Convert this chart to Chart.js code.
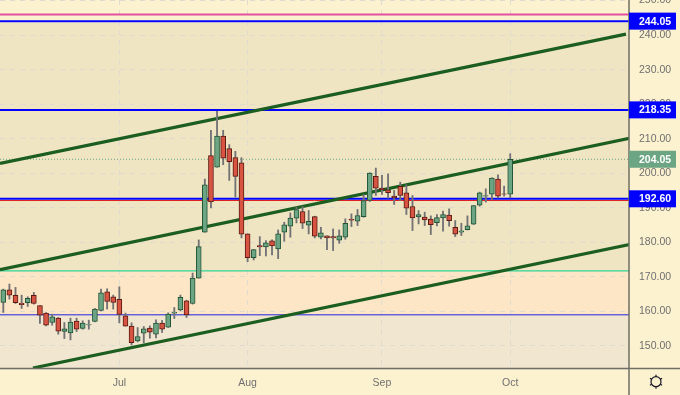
<!DOCTYPE html>
<html>
<head>
<meta charset="utf-8">
<title>Price chart</title>
<script src="https://cdn.jsdelivr.net/npm/chart.js@4/dist/chart.umd.min.js"></script>
<style>
  html, body { margin: 0; padding: 0; background: #fdf2d0; }
  canvas { display: block; }
</style>
</head>
<body>
<canvas id="priceChart" width="680" height="395"></canvas>
<script>
// Candles, one entry per trading day
const opens = [162.58,166.26,164.62,162.39,162.49,164.62,161.71,159.49,156.78,158.03,154.16,153.78,157.16,155.03,156.1,157.07,160.26,165.68,164.23,163.46,158.71,155.71,151.45,153.68,155.13,153.39,156.58,155.42,159.49,160.45,163.07,162.29,169.65,182.91,205.08,201.79,210.79,207.11,204.5,203.05,182.43,175.56,179.04,178.65,180.4,178.07,182.91,184.66,186.98,188.92,184.95,187.46,181.46,181.85,181.65,180.59,181.46,186.69,186.11,187.46,192.11,199.08,195.69,195.21,193.37,196.18,194.34,190.37,187.37,187.27,186.69,185.72,187.08,187.85,184.37,182.91,183.69,185.24,190.75,193.37,193.95,198.31,194.05,193.95];
const highs = [166.46,167.91,166.94,164.71,164.23,165.49,161.71,159.68,159.2,158.23,156.78,158.03,158.03,157.26,157.45,160.84,166.46,166.55,164.71,167.13,159.49,156.68,155.32,155.61,155.81,157.55,157.36,159.58,161.13,164.71,163.26,171.1,180.69,198.31,212.44,217.96,212.44,208.28,206.34,204.5,182.43,177.88,181.65,180.49,180.69,183.59,185.82,188.53,190.17,190.37,189.21,187.56,184.37,181.85,183.88,183.59,186.79,188.24,189.5,193.85,200.15,201.5,199.37,199.85,195.01,197.43,196.66,193.56,189.21,188.72,187.66,188.04,189.01,189.69,186.3,185.53,187.66,190.66,194.53,195.5,198.69,199.56,196.27,205.66];
const lows = [159.68,163.55,162.29,160.84,161.42,162.1,156.49,155.81,156,153.39,152.13,151.74,154.16,154.84,154.84,156.97,160.16,160.65,160.65,156.68,155.71,150.29,151.16,150.87,152.23,152.32,153.87,155.32,157.94,160.16,158.23,162.1,169.6,182.91,189.98,201.79,202.47,197.92,193.08,181.27,174.39,174.88,176.14,176.04,176.33,175.27,180.3,181.46,185.62,183.98,182.43,181.27,180.98,177.88,177.59,179.72,180.88,184.56,184.85,187.27,191.82,193.56,193.85,192.79,190.95,192.11,188.04,183.4,185.33,184.85,182.24,184.75,183.2,184.66,181.65,181.95,183.59,185.14,190.46,191.63,192.3,192.88,193.37,192.88];
const closes = [166.26,164.71,162.49,161.91,163.75,162.29,158.91,156,158.42,154.26,154.94,156.87,154.84,156.58,156.2,160.65,165.39,162.87,162.58,159.1,155.71,150.97,152.71,154.94,153.97,156.58,154.84,159.2,159.78,164.04,159,169.65,178.75,196.66,191.72,210.79,204.4,203.34,199.08,182.33,175.56,177.88,178.65,179.82,178.95,182.43,185.04,186.98,189.5,185.53,186.11,181.75,182.72,181.27,181.27,181.85,185.53,186.4,187.75,192.11,200.05,195.69,195.21,194.34,192.88,193.56,189.88,187.08,188.04,186.5,185.14,187.17,188.04,186.3,182.33,183.3,184.75,190.66,194.34,193.56,198.6,193.37,193.95,204.05];

// Axis labels
const monthLabels = ["Jul", "Aug", "Sep", "Oct"];
const monthIndexes = [19, 40, 62, 83];
const priceTicks = [150, 160, 170, 180, 190, 200, 210, 220, 230, 240, 250];

// Channel lines, [start index, start price, end index, end price]
const channelTop = [-0.54, 202.85, 101.95, 240.3];
const channelMid = [-0.54, 172.07, 102.5, 210.1];
const channelLow = [4.86, 143.6, 102.5, 179.33];

// Horizontal levels
const pinkLevel = 246;
const blueLevels = [244.05, 218.35, 192.6];
const redLevel = 192.1;
const greenLevel = 171.7;
const thinBlueLevel = 159;
const lastPrice = 204.05;

// Price tags on the axis
const tagValues = [244.05, 218.35, 204.05, 192.6];
const tagColors = ["#0000ff", "#0000ff", "#6ba583", "#0000ff"];

// Background zones
const zoneEdges = [250.2, 243.5, 171.7, 159, 143];
const zoneColors = ["#fdf2d0", "#f0e5c3", "#fde6c5", "#f1e6cf"];

const xMin = -0.54, xMax = 102.45;
const yMin = 143.6, yMax = 250.17;

const upFill = "#6ba583", downFill = "#d75442";
const upLine = "#225437", downLine = "#5b1a13";
const wickColor = "#737375";
const axisColor = "#6f6f63";
const fontName = "'Liberation Sans', Arial, sans-serif";

const isUp = opens.map((o, i) => closes[i] >= o);

function levelLine(value, color, width, dash) {
  return {
    type: "line",
    data: [{ x: xMin, y: value }, { x: xMax, y: value }],
    borderColor: color,
    borderWidth: width,
    borderDash: dash || [],
    pointRadius: 0,
    order: 5,
  };
}

function channelLine(c) {
  return {
    type: "line",
    data: [{ x: c[0], y: c[1] }, { x: c[2], y: c[3] }],
    borderColor: "#1b5e20",
    borderWidth: 3.2,
    pointRadius: 0,
    order: 4,
  };
}

// Zones, separators, tags and gear are not chart marks so they go in a plugin
const paneDecor = {
  id: "paneDecor",
  beforeDraw(chart) {
    const ctx = chart.ctx, y = chart.scales.y, area = chart.chartArea;
    ctx.save();
    ctx.fillStyle = "#fdf2d0";
    ctx.fillRect(0, 0, chart.width, chart.height);
    zoneColors.forEach((color, i) => {
      const top = y.getPixelForValue(zoneEdges[i]);
      const bottom = y.getPixelForValue(zoneEdges[i + 1]);
      ctx.fillStyle = color;
      ctx.fillRect(area.left, top, area.right - area.left, bottom - top);
    });
    ctx.restore();
  },
  afterDraw(chart) {
    const ctx = chart.ctx, y = chart.scales.y, area = chart.chartArea;
    ctx.save();

    // pane separators
    ctx.strokeStyle = axisColor;
    ctx.lineWidth = 1.5;
    ctx.beginPath();
    ctx.moveTo(area.right, 0);
    ctx.lineTo(area.right, chart.height);
    ctx.moveTo(0, area.bottom + 0.5);
    ctx.lineTo(chart.width, area.bottom + 0.5);
    ctx.stroke();

    // price tags
    ctx.font = "bold 10.5px " + fontName;
    ctx.textAlign = "left";
    ctx.textBaseline = "middle";
    tagValues.forEach((v, i) => {
      const py = y.getPixelForValue(v);
      ctx.fillStyle = tagColors[i];
      ctx.fillRect(area.right, py - 8.5, 47, 17);
      ctx.fillStyle = "#ffffff";
      ctx.fillText(v.toFixed(2), 639, py + 0.5);
    });

    // settings gear
    const gx = 656, gy = 381.7;
    ctx.strokeStyle = "#131722";
    ctx.lineWidth = 1.2;
    ctx.beginPath();
    ctx.arc(gx, gy, 5, 0, Math.PI * 2);
    ctx.stroke();
    ctx.beginPath();
    for (let i = 0; i < 6; i++) {
      const a = Math.PI / 2 + i * Math.PI / 3;
      ctx.moveTo(gx + Math.cos(a) * 5, gy + Math.sin(a) * 5);
      ctx.lineTo(gx + Math.cos(a) * 7, gy + Math.sin(a) * 7);
    }
    ctx.stroke();
    ctx.restore();
  },
};

const chart = new Chart(document.getElementById("priceChart").getContext("2d"), {
  type: "bar",
  data: {
    datasets: [
      // bodies on top, then wicks, then drawn lines
      {
        data: opens.map((o, i) => ({ x: i, y: [o, closes[i]] })),
        backgroundColor: isUp.map(u => (u ? upFill : downFill)),
        borderColor: isUp.map(u => (u ? upLine : downLine)),
        borderWidth: 1,
        borderSkipped: false,
        barThickness: 5,
        grouped: false,
        order: 1,
      },
      {
        data: highs.map((h, i) => ({ x: i, y: [lows[i], h] })),
        backgroundColor: wickColor,
        barThickness: 1.2,
        grouped: false,
        order: 2,
      },
      channelLine(channelTop),
      channelLine(channelMid),
      channelLine(channelLow),
      ...blueLevels.map(v => levelLine(v, "#0000ff", 2)),
      levelLine(pinkLevel, "#e0509f", 2),
      levelLine(redLevel, "#e02020", 1),
      levelLine(greenLevel, "#2fd39a", 1.2),
      levelLine(thinBlueLevel, "#2020e0", 1),
      levelLine(lastPrice, "#6ba583", 1, [1, 2]),
    ],
  },
  options: {
    responsive: false,
    animation: false,
    layout: { padding: 0 },
    plugins: { legend: { display: false }, tooltip: { enabled: false } },
    scales: {
      x: {
        type: "linear",
        min: xMin,
        max: xMax,
        offset: false,
        grid: { offset: false, color: "#dfdccf", drawTicks: false },
        border: { display: false, dash: [5, 5] },
        ticks: {
          padding: 9,
          maxRotation: 0,
          autoSkip: false,
          color: "#6f6f6f",
          font: { family: fontName, size: 10.5 },
          callback: (value) => monthLabels[monthIndexes.indexOf(value)],
        },
        afterBuildTicks(scale) {
          scale.ticks = monthIndexes.map(v => ({ value: v }));
        },
        afterFit(scale) {
          scale.height = 27;
          scale.paddingLeft = 0;
          scale.paddingRight = 0;
        },
      },
      y: {
        position: "right",
        min: yMin,
        max: yMax,
        grid: { color: "#dfdccf", drawTicks: false },
        border: { display: false, dash: [5, 5] },
        ticks: {
          padding: 10,
          autoSkip: false,
          color: "#6f6f6f",
          font: { family: fontName, size: 10.5 },
          callback: (value) => value.toFixed(2),
        },
        afterBuildTicks(scale) {
          scale.ticks = priceTicks.map(v => ({ value: v }));
        },
        afterFit(scale) {
          scale.width = 51;
          scale.paddingTop = 0;
          scale.paddingBottom = 0;
        },
      },
    },
  },
  plugins: [paneDecor],
});
</script>
</body>
</html>
